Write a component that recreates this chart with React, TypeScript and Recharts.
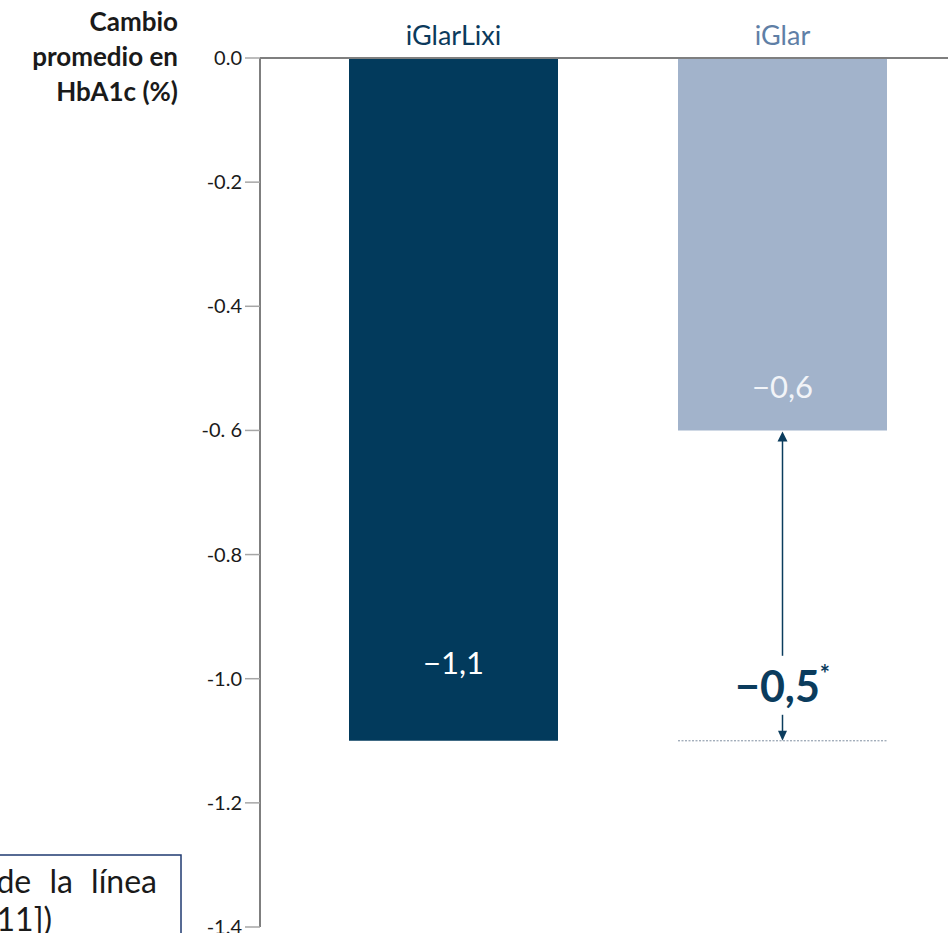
import React from 'react';
import {
  BarChart,
  Bar,
  XAxis,
  YAxis,
  Cell,
  LabelList,
  ReferenceArea,
  Customized,
} from 'recharts';

// Treatment arms and mean HbA1c change
const categories = ['iGlarLixi', 'iGlar'];
const changeValues = [-1.1, -0.6];
const valueLabels = ['−1,1', '−0,6'];
const differenceLabel = '−0,5';
const differenceMark = '*';

// Y axis ticks and their printed labels
const yTicks = [0, -0.2, -0.4, -0.6, -0.8, -1.0, -1.2, -1.4];
const yTickLabels = ['0.0', '-0.2', '-0.4', '-0. 6', '-0.8', '-1.0', '-1.2', '-1.4'];

// Text blocks
const titleLines = ['Cambio', 'promedio en', 'HbA1c (%)'];
const noteLines = ['de la línea', '011])'];

const barColors = ['#023A5C', '#A2B3CB'];
const categoryColors = ['#0B3A5C', '#5F7FA6'];
const valueLabelColors = ['#FFFFFF', '#F2F4F8'];
const NAVY = '#0B3C5D';
const FONT = "Lato, 'Liberation Sans', sans-serif";
const BAR_SIZE = 209;

const chartData = categories.map((category, i) => ({
  category,
  value: changeValues[i],
  label: valueLabels[i],
}));

const CategoryTick = (props: any) => {
  const { x, y, payload } = props;
  const i = categories.indexOf(payload.value);
  return (
    <text
      x={x}
      y={y}
      dy={-13}
      textAnchor="middle"
      fontFamily={FONT}
      fontSize={27}
      fill={categoryColors[i]}
    >
      {payload.value}
    </text>
  );
};

const ValueTick = (props: any) => {
  const { x, y, payload } = props;
  const i = yTicks.findIndex((t) => Math.abs(t - payload.value) < 1e-9);
  return (
    <text
      x={x}
      y={y}
      dy={7}
      textAnchor="end"
      fontFamily={FONT}
      fontSize={20}
      fill="#1A1A1A"
    >
      {yTickLabels[i]}
    </text>
  );
};

// Value printed inside each bar, measured up from the bar end
const labelLift = [78, 43];
const BarValueLabel = (props: any) => {
  const { x, y, width, height, index } = props;
  const end = Math.max(y, y + height);
  const cy = end - labelLift[index];
  return (
    <text
      x={x + width / 2}
      y={cy}
      dy={11}
      textAnchor="middle"
      fontFamily={FONT}
      fontSize={31}
      fill={valueLabelColors[index]}
    >
      {valueLabels[index]}
    </text>
  );
};

const AxisTitle = (props: any) => {
  const { viewBox } = props;
  const right = viewBox.x + 178;
  const top = viewBox.y;
  return (
    <text textAnchor="end" fontFamily={FONT} fontSize={26} fontWeight={700} fill="#1A1A1A">
      {titleLines.map((line, i) => (
        <tspan key={line} x={right} y={top - 27 + i * 35}>
          {line}
        </tspan>
      ))}
    </text>
  );
};

// Bracket showing the gap between the two arms
const DifferenceMarker = (props: any) => {
  const { x, y, width, height } = props;
  const cx = x + width / 2;
  const top = Math.min(y, y + height);
  const bottom = Math.max(y, y + height);
  const half = BAR_SIZE / 2;
  return (
    <g>
      <line
        x1={cx - half}
        x2={cx + half}
        y1={bottom}
        y2={bottom}
        stroke="#7F8FA0"
        strokeWidth={1}
        strokeDasharray="2 1.5"
      />
      <line x1={cx} x2={cx} y1={top + 10} y2={bottom - 85} stroke={NAVY} strokeWidth={1.5} />
      <path d={`M${cx},${top + 1} L${cx - 5},${top + 11} L${cx + 5},${top + 11} Z`} fill={NAVY} />
      <text
        x={cx}
        y={bottom - 39}
        textAnchor="middle"
        fontFamily={FONT}
        fontSize={43}
        fontWeight={700}
        fill={NAVY}
      >
        {differenceLabel}
        <tspan fontSize={24} dy={-19}>
          {differenceMark}
        </tspan>
      </text>
      <line x1={cx} x2={cx} y1={bottom - 26} y2={bottom - 9} stroke={NAVY} strokeWidth={1.5} />
      <path d={`M${cx},${bottom} L${cx - 4.5},${bottom - 10} L${cx + 4.5},${bottom - 10} Z`} fill={NAVY} />
    </g>
  );
};

const NoteBox = () => (
  <g>
    <rect x={-10} y={855} width={191} height={100} fill="none" stroke="#1F3A70" strokeWidth={1.5} />
    <text fontFamily={FONT} fontSize={32} fill="#1A1A1A">
      <tspan x={157} y={893} textAnchor="end" wordSpacing={10}>
        {noteLines[0]}
      </tspan>
      <tspan x={52} y={931} textAnchor="end">
        {noteLines[1]}
      </tspan>
    </text>
  </g>
);

export default function App() {
  return (
    <div style={{ position: 'absolute', left: 0, top: 0, width: 948, height: 933, background: '#fff' }}>
      <BarChart
        width={948}
        height={933}
        data={chartData}
        margin={{ top: 8, right: 0, bottom: 6, left: 0 }}
        barSize={BAR_SIZE}
      >
        <XAxis
          dataKey="category"
          orientation="top"
          height={50}
          padding={{ left: 29, right: 1 }}
          tickLine={false}
          tickSize={0}
          tickMargin={0}
          axisLine={{ stroke: '#7F7F7F', strokeWidth: 2 }}
          tick={<CategoryTick />}
          interval={0}
        />
        <YAxis
          type="number"
          domain={[-1.4, 0]}
          ticks={yTicks}
          width={260}
          tickSize={15}
          tickMargin={3}
          interval={0}
          allowDataOverflow
          axisLine={{ stroke: '#7F7F7F', strokeWidth: 2 }}
          tickLine={{ stroke: '#A6A6A6', strokeWidth: 1.5 }}
          tick={<ValueTick />}
          label={<AxisTitle />}
        />
        <Bar dataKey="value" isAnimationActive={false}>
          {chartData.map((d, i) => (
            <Cell key={d.category} fill={barColors[i]} />
          ))}
          <LabelList dataKey="label" content={<BarValueLabel />} />
        </Bar>
        <ReferenceArea
          x1={categories[1]}
          x2={categories[1]}
          y1={changeValues[1]}
          y2={changeValues[0]}
          ifOverflow="visible"
          shape={<DifferenceMarker />}
        />
        <Customized component={<NoteBox />} />
      </BarChart>
    </div>
  );
}
